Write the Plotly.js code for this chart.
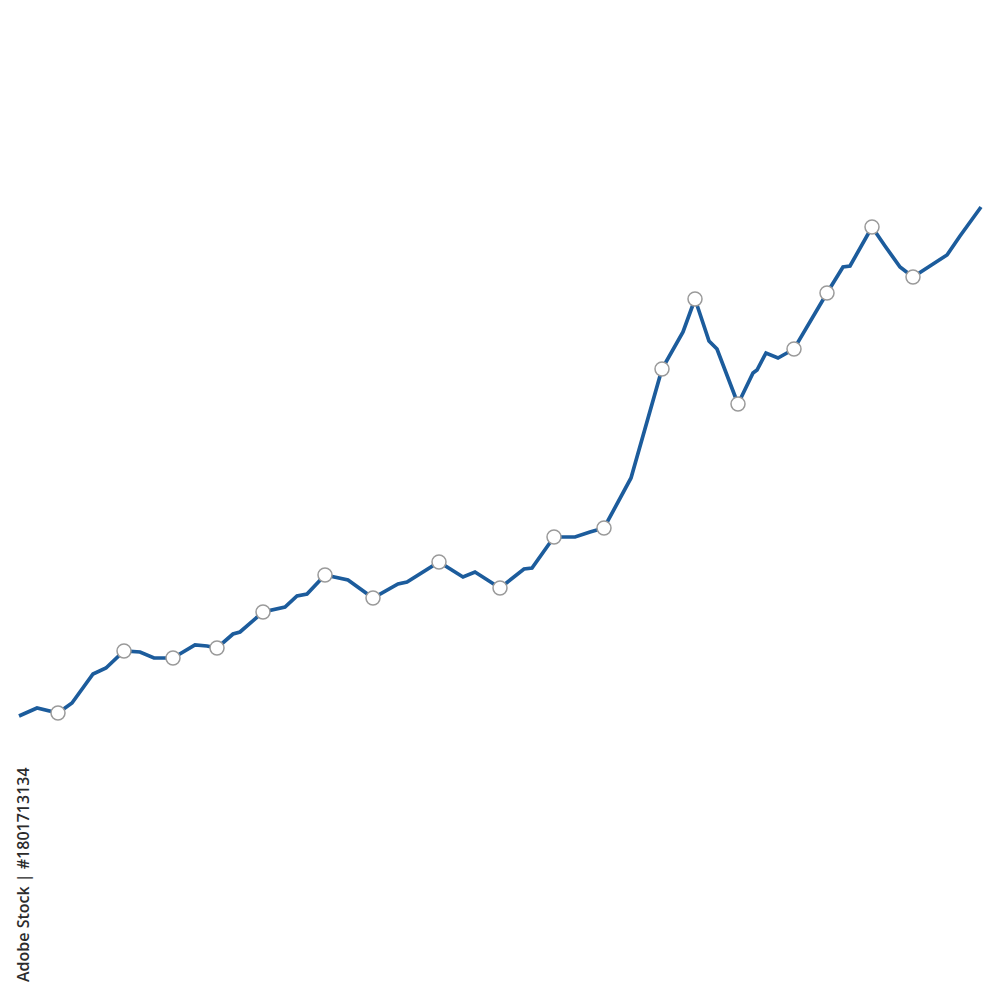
<!DOCTYPE html>
<html>
<head>
<meta charset="utf-8">
<script src="https://cdn.plot.ly/plotly-3.0.1.min.js"></script>
<style>html,body{margin:0;padding:0;background:#fff;}#chart{width:1000px;height:1000px;}</style>
</head>
<body>
<div id="chart"></div>
<script>
// Line vertices (x position, value)
const lineX = [19,37,58,72,93,106,124,140,154,165,173,195,207,217,233,240,263,285,297,307,325,348,373,398,407,439,463,475,500,524,532,554,575,590,604,631,662,683,695,709,717,738,753,757,766,778,794,827,843,850,872,885,900,913,947,960,981];
const lineY = [284,292,287,297,326,332,349,348,342,342,342,355,354,352,366,368,388,393,404,406,425,420,402,416,418,438,423,428,412,431,432,463,463,468,472,522,631,668,701,659,651,596,627,630,647,642,651,707,733,734,773,754,733,723,745,764,793];
// Highlighted points (circles)
const markX = [58,124,173,217,263,325,373,439,500,554,604,662,695,738,794,827,872,913];
const markY = [287,349,342,352,388,425,402,438,412,463,472,631,701,596,651,707,773,723];
const creditText = "Adobe Stock | #1801713134";

Plotly.newPlot('chart', [
  {x: lineX, y: lineY, type: 'scatter', mode: 'lines',
   line: {color: '#1c5c9c', width: 3.7}, hoverinfo: 'skip'},
  {x: markX, y: markY, type: 'scatter', mode: 'markers',
   marker: {size: 14, color: '#ffffff', line: {color: '#9a9a9a', width: 1.5}}}
], {
  width: 1000, height: 1000,
  margin: {l: 0, r: 0, t: 0, b: 0},
  paper_bgcolor: '#ffffff', plot_bgcolor: '#ffffff',
  showlegend: false,
  xaxis: {range: [0, 1000], visible: false, fixedrange: true},
  yaxis: {range: [0, 1000], visible: false, fixedrange: true},
  annotations: [{
    text: creditText, xref: 'paper', yref: 'paper', x: 0.023, y: 0.125,
    showarrow: false, textangle: -90, xanchor: 'center', yanchor: 'middle',
    font: {family: 'Open Sans', size: 16, weight: 600, color: '#2b2b2b'}
  }]
}, {displayModeBar: false, staticPlot: true});
</script>
</body>
</html>
